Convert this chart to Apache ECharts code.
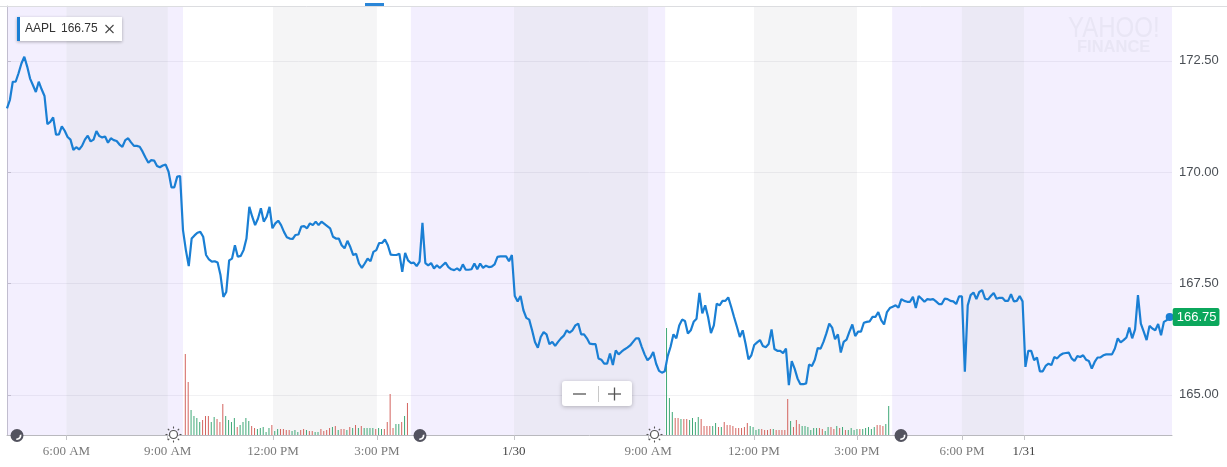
<!DOCTYPE html>
<html><head><meta charset="utf-8">
<style>html,body{margin:0;padding:0;background:#fff}#c{width:1227px;height:467px}</style>
<script src="https://cdn.jsdelivr.net/npm/echarts@6/dist/echarts.min.js"></script>
</head><body><div id="c"></div>
<script>
const symbol = 'AAPL';
const lastPrice = 166.75;
const priceTicks = [165, 167.5, 170, 172.5];
const timeTickAt = [20.6, 55.7, 92.2, 128.2, 175.7, 222.2, 258.9, 294.6, 331, 352.5];
const timeTickLabels = ['6:00 AM','9:00 AM','12:00 PM','3:00 PM','1/30','9:00 AM','12:00 PM','3:00 PM','6:00 PM','1/31'];
const pricePre1 = [171.43,171.62,172.03,172.03,172.22,172.44,172.59,172.37,172.10,171.95,171.80,172.03,171.86,171.71,171.08,171.13,171.23,170.84,170.85,171.03,170.93,170.79,170.73,170.50,170.56,170.51,170.59,170.73,170.82,170.69,170.73,170.92,170.81,170.78,170.80,170.66,170.76,170.72,170.70,170.62,170.57,170.72,170.76,170.67,170.59,170.59,170.57,170.46,170.33,170.21,170.27,170.26,170.14,170.11,170.15,170.17,170.01,169.66,169.66,169.90,169.91];
const priceDay1 = [168.70,168.25,167.89,168.51,168.58,168.64,168.66,168.55,168.14,168.04,167.99,168.00,167.97,167.69,167.20,167.31,168.02,168.06,168.36,168.10,168.12,168.25,168.51,169.22,169.00,168.81,168.96,169.19,168.89,169.00,169.22,168.74,168.85,168.91,168.81,168.66,168.54,168.51,168.50,168.59,168.60,168.78,168.79,168.74,168.85,168.81,168.89,168.81,168.89,168.84,168.79,168.74,168.55,168.51,168.51,168.36,168.29,168.46,168.32,168.14,168.17,167.95,167.85,167.95,168.06,168.00,168.21,168.25,168.41,168.41,168.49,168.36,168.15,168.14,168.14,168.17,167.76,168.19,168.02];
const priceMid = [167.96,167.97,167.89,167.99,168.86,167.96,167.91,167.96,167.84,167.91,167.85,167.91,167.97,167.87,167.82,167.80,167.84,167.79,167.93,167.81,167.81,167.82,167.95,167.82,167.95,167.85,167.90,167.87,167.88,167.93,168.10,168.11,168.11,168.11,168.00,168.14,167.22,167.10,167.22,166.90,166.73,166.69,166.45,166.19,166.06,166.30,166.41,166.36,166.14,166.19,166.10,166.19,166.27,166.33,166.45,166.40,166.45,166.56,166.60,166.36,166.36,166.27,166.15,166.14,166.14,165.82,165.79,165.70,165.70,165.93,165.67,166.00,165.91,165.97,166.02,166.06,166.11,166.19,166.27,166.27,166.08,165.91,165.78,165.84,165.96,165.70,165.54,165.50,165.53,165.87,166.08,166.36,166.27,166.56,166.69,166.66,166.38,166.45,166.64,166.71,167.29,166.83,167.01,166.75,166.39,166.56,167.05,167.01,167.11,167.11,167.19,166.98,166.75,166.53,166.30,166.45,166.15,165.80,165.89,166.12,166.18,166.23,166.10,166.07,166.14,166.47,166.03,165.99,165.99,165.94,166.04,165.22,165.76,165.59,165.37,165.24,165.24,165.26,165.68,165.65,165.79,166.05,166.04,166.19,166.38,166.60];
const priceLate = [166.51,166.25,166.36,165.95,166.19,166.24,166.42,166.58,166.32,166.42,166.42,166.62,166.64,166.65,166.75,166.75,166.86,166.68,166.58,166.86,166.95,166.98,167.01,166.96,167.15,167.11,167.09,167.09,167.20,166.95,167.22,167.16,167.09,167.15,167.14,167.15,167.10,167.04,167.04,167.16,167.15,167.11,167.10,167.04,167.21,167.21,165.52,167.01,167.24,167.30,167.15,167.31,167.35,167.16,167.14,167.22,167.29,167.16,167.18,167.18,167.11,167.11,167.26,167.10,167.11,167.22,167.10,165.63,165.99,165.99,165.78,165.84,165.53,165.53,165.65,165.70,165.67,165.85,165.82,165.89,165.93,165.94,165.95,165.82,165.76,165.87,165.85,165.89,165.79,165.76,165.59,165.74,165.84,165.84,165.89,165.91,165.91,165.91,166.04,166.27,166.18,166.23,166.29,166.51,166.27,166.47,167.24,166.60,166.42,166.23,166.55,166.49,166.45,166.59,166.34,166.64,166.68,166.75];
const volStart1 = 61.8, volStart2 = 228.6;
const vol1 = [8.1,5.3,2.5,1.9,1.7,1.3,1.5,1.9,1.9,1.3,1.8,1.6,1.3,3.1,1.9,1.5,1.3,1.7,0.8,1.0,1.3,1.7,1.4,0.9,0.7,0.6,0.7,0.8,0.3,0.7,1.0,0.4,0.6,0.6,0.6,0.5,0.5,0.4,0.5,0.3,0.5,0.6,0.5,0.4,0.4,0.3,0.3,0.6,0.4,0.5,0.7,0.8,0.9,0.5,0.6,0.6,0.5,0.8,0.7,1.0,0.7,0.9,0.7,0.7,0.7,0.7,0.6,0.7,0.6,0.6,1.3,4.1,0.7,1.1,1.1,1.3,1.9,3.2];
const dir1 = ['dduuuudddu','uddduuuudu','uuudduuuuu','duudddduuu','ddudduuddd','dududdudud','uduuuuduud','ddduudud'].join('');
const vol2 = [10.7,3.7,2.3,1.7,1.7,1.6,1.6,1.6,1.5,1.7,1.3,1.8,1.6,0.9,0.9,0.9,0.9,1.2,0.8,0.8,1.3,1.0,1.0,0.9,0.7,0.7,0.7,0.8,1.2,0.9,0.8,0.5,0.6,0.6,0.5,0.5,0.6,0.6,0.5,0.5,0.5,0.5,3.6,1.4,0.8,1.5,1.1,0.9,0.9,0.8,0.5,0.7,0.7,0.7,0.6,0.4,0.8,0.8,0.6,0.9,0.7,0.8,0.5,0.5,0.7,0.5,0.6,0.6,0.6,0.7,0.8,0.6,0.8,1.0,1.0,0.9,1.1,2.9];
const dir2 = ['uuuddudduu','uuddddu'+'udu','ddddddddd'+'u','uuuddddudd','ddduddduuu','uuudduudd'+'u','duduuuuduu','uuudddu'+'u'].join('');
const bandEdges = [[0,20.6,'pre'],[20.6,55.7,'dark'],[55.7,61,'pre'],[92.2,128.2,'noon'],[140,175.7,'pre'],[175.7,222.2,'dark'],[222.2,228.1,'pre'],[258.9,294.6,'noon'],[306.8,331,'pre'],[331,352.5,'dark'],[352.5,403.8,'pre']];
const moonsAt = [17, 420, 901];
const sunsAt = [173.5, 654.5];

const bandColor = {pre:'rgba(120,80,240,0.09)',dark:'rgba(90,70,170,0.12)',noon:'rgba(60,60,80,0.05)'};
const prices = [].concat(pricePre1, priceDay1, priceMid, priceLate);
const linePts = prices.map((v,i)=>[i,v]);
const RED='#d4645f', GREEN='#3fa877';
const volPts = (arr,start,dir)=>arr.map((v,i)=>({value:[start+i,v],itemStyle:{color:dir[i]==='d'?RED:GREEN}}));

const g = [];
const ln=(x1,y1,x2,y2,stroke,w,z)=>g.push({type:'line',shape:{x1,y1,x2,y2},style:{stroke,lineWidth:w},z});
ln(0,6.5,1227,6.5,'#dcdde0',1,5);
g.push({type:'rect',shape:{x:365,y:3,width:19,height:3},style:{fill:'#2a86d8'},z:5});
g.push({type:'rect',shape:{x:17,y:17,width:105,height:24},style:{fill:'#fff',shadowBlur:3,shadowColor:'rgba(0,0,0,0.3)',shadowOffsetY:1},z:20});
g.push({type:'rect',shape:{x:17,y:17,width:3,height:24},style:{fill:'#1a7fd4'},z:21});
g.push({type:'text',x:25,y:29,style:{text:symbol,font:'12px "Liberation Sans"',fill:'#333',verticalAlign:'middle'},z:21});
g.push({type:'text',x:61,y:29,style:{text:lastPrice.toFixed(2),font:'12px "Liberation Sans"',fill:'#333',verticalAlign:'middle'},z:21});
ln(105.5,25,113.5,33,'#444',1.1,21); ln(113.5,25,105.5,33,'#444',1.1,21);
g.push({type:'text',x:1068,y:14,scaleY:1.22,style:{text:'YAHOO!',font:'24px "Liberation Sans"',fill:'#e9e6f5'},z:3});
g.push({type:'text',x:1077,y:39,style:{text:'FINANCE',font:'bold 16.5px "Liberation Sans"',fill:'#e9e6f5'},z:3});
moonsAt.forEach(x=>{
  g.push({type:'circle',shape:{cx:x,cy:435.5,r:6.5},style:{fill:'#53535f'},z:15});
  g.push({type:'arc',shape:{cx:x,cy:435.5,r:3.6,startAngle:-0.2,endAngle:1.75,clockwise:true},style:{stroke:'#fff',fill:null,lineWidth:1.7},z:16});
});
sunsAt.forEach(x=>{
  const cy=434.5;
  g.push({type:'circle',shape:{cx:x,cy:cy,r:4},style:{fill:'#fff',stroke:'#555',lineWidth:1.2},z:15});
  for(let a=0;a<8;a++){const t=a*Math.PI/4;
    ln(x+6*Math.cos(t),cy+6*Math.sin(t),x+8*Math.cos(t),cy+8*Math.sin(t),'#555',1.1,15);}
});
g.push({type:'rect',shape:{x:562,y:381,width:70,height:25,r:3},style:{fill:'#fff',shadowBlur:4,shadowColor:'rgba(0,0,0,0.25)',shadowOffsetY:1},z:20});
ln(573,394,586,394,'#555',1.3,21);
ln(598.5,386,598.5,402,'#c8c8c8',1,21);
ln(608,394,621,394,'#555',1.3,21);
ln(614.5,387.5,614.5,400.5,'#555',1.3,21);

const chart = echarts.init(document.getElementById('c'),null,{renderer:'canvas'});
chart.setOption({
  animation:false,
  backgroundColor:'#fff',
  grid:{left:7,right:55,top:6,bottom:32,containLabel:false},
  xAxis:{type:'value',min:0,max:403.8,
    axisLine:{lineStyle:{color:'#b9b9be',width:1},onZero:false},
    axisTick:{show:true,length:5,customValues:timeTickAt,lineStyle:{color:'#c4c4c8'}},
    splitLine:{show:false},
    axisLabel:{customValues:timeTickAt,margin:10,hideOverlap:false,showMinLabel:true,showMaxLabel:true,
      fontFamily:'"Liberation Serif"',fontSize:13,color:'#7a7a7a',
      formatter:v=>{const l=timeTickLabels[timeTickAt.indexOf(v)]||'';return l.includes('/')?`{d|${l}}`:l;},
      rich:{d:{fontFamily:'"Liberation Serif"',fontSize:13,color:'#444'}}}},
  yAxis:[{type:'value',position:'right',min:164.1,max:173.73,
    axisLine:{show:true,lineStyle:{color:'#c8c8cc'}},
    axisTick:{show:true,length:4,customValues:priceTicks,lineStyle:{color:'#c8c8cc'}},
    splitLine:{show:true,lineStyle:{color:'#f1f1f3'}},
    axisLabel:{customValues:priceTicks,margin:7,fontFamily:'"Liberation Sans"',fontSize:13,color:'#4a4f55',formatter:v=>v.toFixed(2)}},
   {type:'value',min:0,max:42.9,show:false,splitLine:{show:false}}],
  graphic:g,
  series:[
   {type:'line',data:[],silent:true,z:1,markArea:{silent:true,data:bandEdges.map(b=>[{xAxis:b[0],itemStyle:{color:bandColor[b[2]]}},{xAxis:b[1]}])}},
   {type:'bar',yAxisIndex:1,barWidth:1,data:volPts(vol1,volStart1,dir1),z:2,silent:true},
   {type:'bar',yAxisIndex:1,barWidth:1,barGap:'-100%',data:volPts(vol2,volStart2,dir2),z:2,silent:true},
   {type:'line',data:linePts,showSymbol:false,symbol:'none',z:4,silent:true,
    lineStyle:{color:'#1a7fd4',width:2.2},
    markPoint:{silent:true,symbol:'circle',symbolSize:8,itemStyle:{color:'#1a7fd4'},
      data:[{coord:[prices.length-1,lastPrice],value:lastPrice,
        label:{show:true,position:'right',distance:-1,formatter:lastPrice.toFixed(2),color:'#fff',fontFamily:'"Liberation Sans"',fontSize:13,
          backgroundColor:'#0ba75c',borderRadius:2,padding:[3,3,2,4]}}]}}
  ]
});
</script></body></html>
